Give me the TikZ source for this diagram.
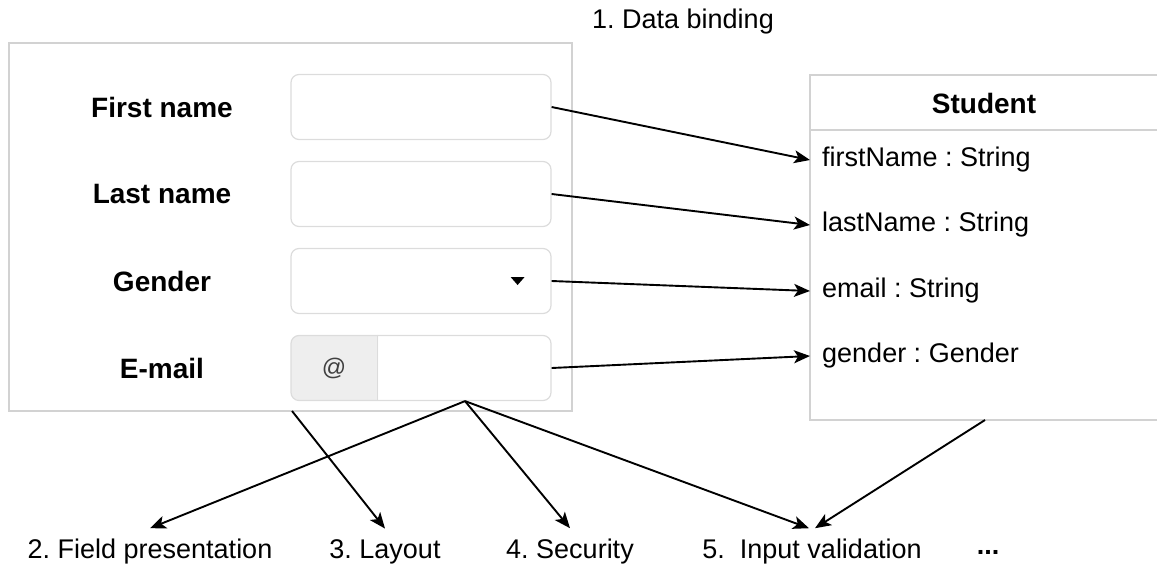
\documentclass[tikz,border=0pt]{standalone}
\usepackage{fontspec}
\setmainfont{Liberation Sans}
\usetikzlibrary{positioning, arrows.meta}
\frenchspacing

\definecolor{framegray}{HTML}{D2D2D2}
\definecolor{fieldgray}{HTML}{DCDCDC}
\definecolor{addongray}{HTML}{EEEEEE}

\tikzset{
  field/.style={draw=fieldgray, line width=1.2pt, rounded corners=8pt,
    minimum width=260pt, minimum height=65pt, inner sep=0pt},
  formlabel/.style={font=\fontsize{28}{32}\selectfont\bfseries},
  attr/.style={anchor=west, inner xsep=12pt, font=\fontsize{27}{30}\selectfont},
  aspect/.style={font=\fontsize{27}{30}\selectfont, inner xsep=2pt, inner ysep=11pt},
  link/.style={line width=1.9pt, -{Stealth[length=16pt, width=13pt, inset=4pt]}},
}

\begin{document}
\begin{tikzpicture}[x=1pt, y=-1pt]
    \useasboundingbox (0,0) rectangle (1157,571);

    % the form
    \draw [framegray, line width=2pt] (9,43) rectangle (572,411);

    \node[formlabel] (lfirst)  at (162,107) {First name};
    \node[formlabel] (llast)   at (162,194) {Last name};
    \node[formlabel] (lgender) at (162,281) {Gender};
    \node[formlabel] (lemail)  at (162,368) {E-mail};

    % @ add-on of the e-mail field
    \begin{scope}
        \clip (285,330) rectangle (378,405);
        \fill[addongray, rounded corners=8pt] (291,335) rectangle (551,400);
    \end{scope}

    \node[field] (first)  at (421,107) {};
    \node[field] (last)   at (421,194) {};
    \node[field] (gender) at (421,281) {};
    \node[field] (email)  at (421,368) {};

    \draw[fieldgray, line width=1.2pt] ([xshift=87pt]email.north west) -- ([xshift=87pt]email.south west);
    \node[font=\fontsize{24}{28}\selectfont, text=black!75] (at) at (334,368) {@};

    % drop-down mark
    \fill ([xshift=-34pt]gender.east) ++(-7,-4) -- ++(14,0) -- ++(-7,8) -- cycle;

    % the class
    \draw [framegray, line width=1.5pt] (810,75) rectangle (1170,420);
    \draw [framegray, line width=1.5pt] (810,130) -- (1170,130);
    \node[font=\fontsize{28}{32}\selectfont\bfseries] (student) at (984,103) {Student};

    \node[attr] (fname)   at (810,160) {firstName : String};
    \node[attr] (lname)   at (810,225) {lastName : String};
    \node[attr] (mail)    at (810,291) {email : String};
    \node[attr] (sex)     at (810,356) {gender : Gender};

    % concerns
    \node[aspect] (binding)  at (683,22)  {1. Data binding};
    \node[aspect] (present)  at (150,552) {2. Field presentation};
    \node[aspect] (layout)   at (385,552) {3. Layout};
    \node[aspect] (security) at (570,552) {4. Security};
    \node[aspect] (valid)    at (812,552) {5.\ \ Input validation};
    \node[aspect] (more)     at (988,552) {\textbf{...}};

    \coordinate (hub)       at ([xshift=44pt]email.south);
    \coordinate (formfoot)  at (292,411);
    \coordinate (classfoot) at (985,420);

    % data binding
    \draw[link] (first.east)  -- (fname.west);
    \draw[link] (last.east)   -- (lname.west);
    \draw[link] (gender.east) -- (mail.west);
    \draw[link] (email.east)  -- (sex.west);

    % the other concerns
    \draw[link] (hub) -- (present.north);
    \draw[link] (formfoot) -- (layout.north);
    \draw[link] (hub) -- (security.north);
    \draw[link] (hub) -- ([xshift=-3pt]valid.north);
    \draw[link] (classfoot) -- ([xshift=3pt]valid.north);
\end{tikzpicture}
\end{document}
